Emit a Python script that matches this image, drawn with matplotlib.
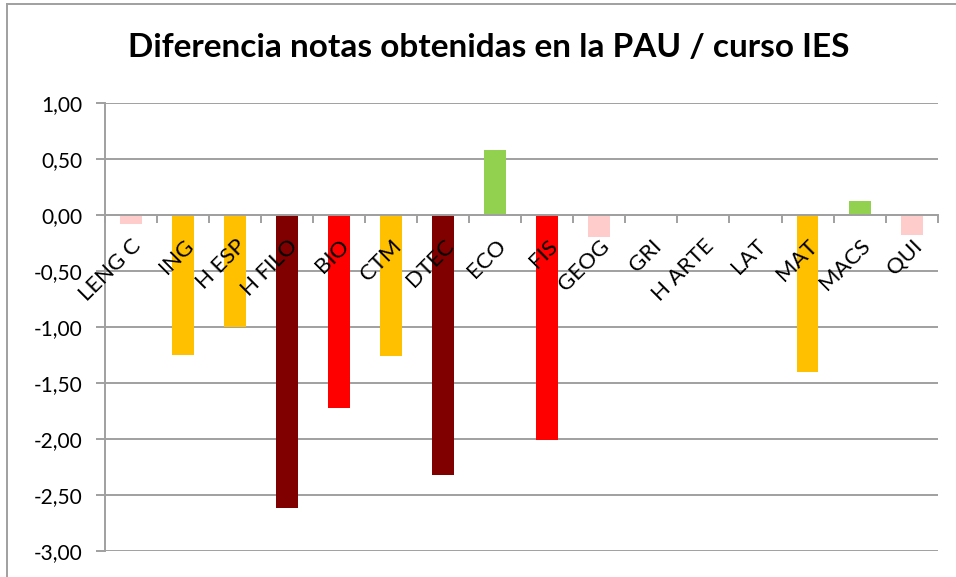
import matplotlib.pyplot as plt
import matplotlib.transforms as mtransforms
from matplotlib.lines import Line2D

asignaturas = ["LENG C", "ING", "H ESP", "H FILO", "BIO", "CTM", "DTEC", "ECO",
               "FIS", "GEOG", "GRI", "H ARTE", "LAT", "MAT", "MACS", "QUI"]
diferencia = [-0.08, -1.25, -1.00, -2.62, -1.72, -1.26, -2.32, 0.58,
              -2.01, -0.20, 0.0, 0.0, 0.0, -1.40, 0.125, -0.18]
colores = ["#FFCCCC", "#FFC000", "#FFC000", "#800000", "#FF0000", "#FFC000", "#800000", "#92D050",
           "#FF0000", "#FFCCCC", "#FFCCCC", "#FFCCCC", "#FFCCCC", "#FFC000", "#92D050", "#FFCCCC"]
yticks = [1.0, 0.5, 0.0, -0.5, -1.0, -1.5, -2.0, -2.5, -3.0]

plt.rcParams['font.family'] = ['Lato', 'DejaVu Sans']
gris = "#A0A0A0"

fig = plt.figure(figsize=(9.56, 5.77), dpi=100)
ax = fig.add_axes([0.1098, 0.045, 0.871, 0.7765])

x = list(range(len(asignaturas)))
ax.bar(x, diferencia, width=0.42, color=colores, zorder=3)

ax.set_xlim(-0.5, len(asignaturas) - 0.5)
ax.set_ylim(-3, 1)
ax.set_yticks(yticks)
ax.set_yticklabels([("%.2f" % v).replace(".", ",") for v in yticks], fontsize=15)
ax.yaxis.grid(True, color=gris, linewidth=1.4, zorder=0)

for s in ["top", "right"]:
    ax.spines[s].set_visible(False)
ax.spines["bottom"].set_position(("data", 0))
ax.spines["bottom"].set_zorder(4)
for s in ["left", "bottom"]:
    ax.spines[s].set_color(gris)
    ax.spines[s].set_linewidth(1.4)

ax.set_xticks(x)
ax.set_xticks([i - 0.5 for i in range(len(asignaturas) + 1)], minor=True)
ax.tick_params(axis="x", which="major", length=0, pad=15)
ax.tick_params(axis="x", which="minor", length=6, width=1.4, color=gris)
ax.tick_params(axis="y", length=6.5, width=1.4, color=gris, pad=10)
ax.set_xticklabels(asignaturas, rotation=45, ha="right", va="top",
                   rotation_mode="anchor", fontsize=16)
ax.xaxis.set_zorder(5)
offset = mtransforms.ScaledTranslation(0, 0, fig.dpi_scale_trans)
for lab in ax.get_xticklabels():
    lab.set_transform(lab.get_transform() + offset)

fig.text(0.511, 0.918, "Diferencia notas obtenidas en la PAU / curso IES",
         ha="center", va="center", fontsize=24, fontweight="bold")

# marco del grafico
fig.add_artist(Line2D([7 / 956, 7 / 956], [0, 1 - 4 / 577], color=gris, linewidth=1.4))
fig.add_artist(Line2D([7 / 956, 1], [1 - 4 / 577, 1 - 4 / 577], color=gris, linewidth=1.4))

fig.savefig("out.png", dpi=100)
